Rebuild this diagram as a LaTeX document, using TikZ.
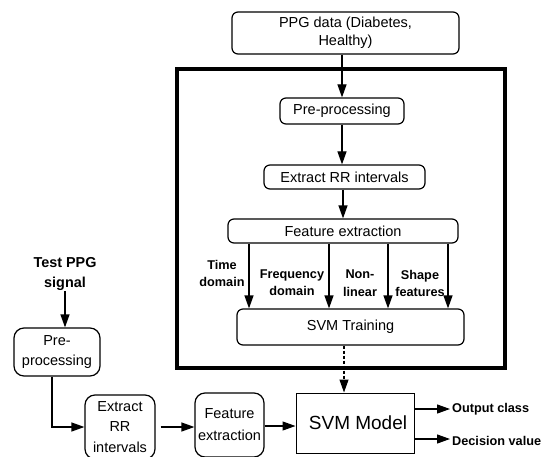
\documentclass[tikz,border=0pt]{standalone}
\usepackage{fontspec}
\setmainfont{Liberation Sans}
\usetikzlibrary{arrows.meta}
\begin{document}
\begin{tikzpicture}[x=1pt,y=-1pt,
  box/.style={draw, line width=1.2pt, rounded corners=6pt, inner sep=0pt, align=center,
              font=\fontsize{14.5}{18}\selectfont},
  smallbox/.style={box, rounded corners=10pt, font=\fontsize{14.5}{20.5}\selectfont},
  arr/.style={line width=1.2pt, -{Triangle[length=13pt,width=9pt]}},
  lbl/.style={align=center, inner sep=0pt, font=\bfseries\fontsize{12.7}{17.5}\selectfont},
  outlbl/.style={anchor=west, inner sep=2pt, font=\bfseries\fontsize{12.7}{15}\selectfont},
]
\useasboundingbox (0,0) rectangle (548,457);
\fill[white] (0,0) rectangle (548,457);

% training pipeline
\node[box, minimum width=227pt, minimum height=42pt] (ppg) at (345.5,33) {PPG data (Diabetes,\\Healthy)};
\node[draw, line width=3.5pt, minimum width=328pt, minimum height=299pt, inner sep=0pt] (frame) at (341,218.5) {};
\node[box, minimum width=124pt, minimum height=26pt] (pre) at (342,111) {Pre-processing};
\node[box, minimum width=161pt, minimum height=24pt] (rr) at (344.5,177) {Extract RR intervals};
\node[box, minimum width=230pt, minimum height=24pt] (fe) at (343,231) {Feature extraction};
\node[box, minimum width=227pt, minimum height=36pt] (svmt) at (350.5,327) {SVM Training};

% feature groups
\node[lbl] (ltime) at (222,273.5) {Time\\domain};
\node[lbl] (lfreq) at (292,282.5) {Frequency\\domain};
\node[lbl] (lnon) at (360,283) {Non-\\linear};
\node[lbl] (lshape) at (420,283.5) {Shape\\features};

% model
\node[draw, line width=1pt, minimum width=118pt, minimum height=60pt, inner sep=0pt,
      font=\fontsize{19}{22}\selectfont] (svmm) at (355,423) {\hspace*{6pt}SVM Model};
\node[outlbl] (out1) at (450,409) {Output class};
\node[outlbl] (out2) at (450,441) {Decision value};

% test pipeline
\node[lbl, font=\bfseries\fontsize{14.4}{20}\selectfont] (test) at (65,274) {Test PPG\\signal};
\node[smallbox, minimum width=86pt, minimum height=48pt] (lpre) at (57,352) {Pre-\\processing};
\node[smallbox, minimum width=70pt, minimum height=64pt] (lrr) at (120,427) {Extract\\RR\\intervals};
\node[smallbox, minimum width=69pt, minimum height=64pt, font=\fontsize{14.5}{22}\selectfont] (lfe) at (229.5,425) {Feature\\extraction};

% connectors
\draw[arr] (pre.north |- ppg.south) -- (pre.north);
\draw[arr] (pre.south) -- (pre.south |- rr.north);
\draw[arr] (rr.south -| 343,0) -- (fe.north -| 343,0);
\foreach \x in {249,329,388,448}
  \draw[arr] (fe.south -| \x,0) -- (svmt.north -| \x,0);
\draw[arr, dash pattern=on 3pt off 2pt] (svmt.south -| 344,0) -- (svmm.north -| 344,0);
\draw[arr] (svmm.east |- out1.west) -- (out1.west);
\draw[arr] (svmm.east |- 0,439) -- (out2.west |- 0,439);

\draw[arr] (test.south -| 65,0) -- (lpre.north -| 65,0);
\draw[arr] (lpre.south -| 52,0) |- (lrr.west);
\draw[arr] ([xshift=5pt]lrr.east) -- (lfe.west |- lrr.east);
\draw[arr] (lfe.east |- 0,426) -- (svmm.west |- 0,426);
\end{tikzpicture}
\end{document}
